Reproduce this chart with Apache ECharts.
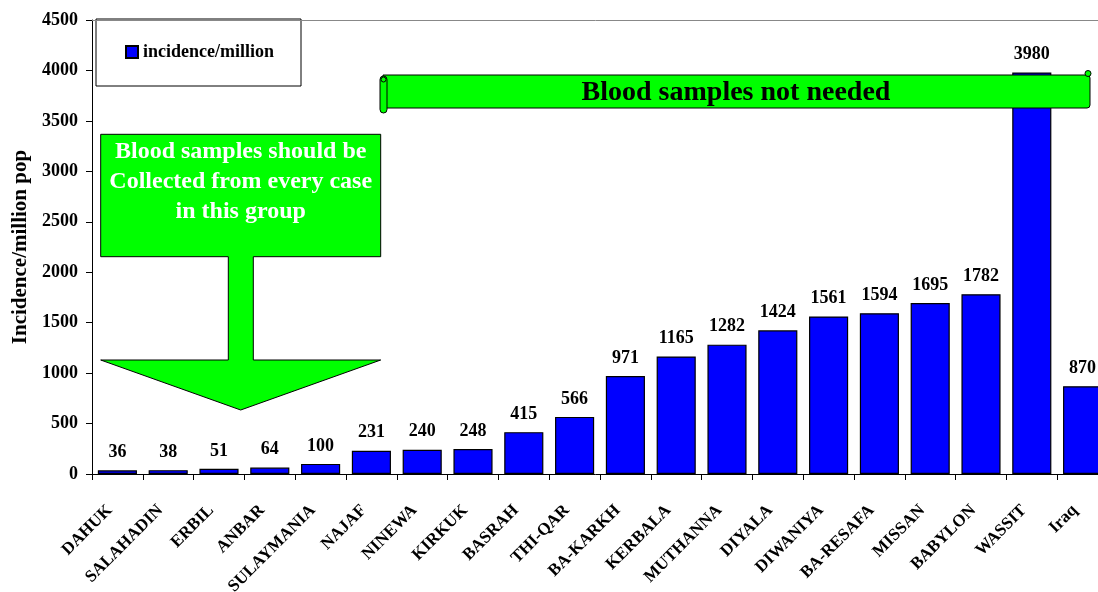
<!DOCTYPE html>
<html><head><meta charset="utf-8">
<script src="https://cdn.jsdelivr.net/npm/echarts@6/dist/echarts.min.js"></script>
<style>html,body{margin:0;padding:0;background:#fff}#c{width:1098px;height:592px}</style>
</head><body><div id="c"></div>
<script>
const categories = ['DAHUK','SALAHADIN','ERBIL','ANBAR','SULAYMANIA','NAJAF','NINEWA','KIRKUK','BASRAH','THI-QAR','BA-KARKH','KERBALA','MUTHANNA','DIYALA','DIWANIYA','BA-RESAFA','MISSAN','BABYLON','WASSIT','Iraq'];
const incidence = [36,38,51,64,100,231,240,248,415,566,971,1165,1282,1424,1561,1594,1695,1782,3980,870];
const seriesName = 'incidence/million';
const yAxisName = 'Incidence/million pop';
const yMin = 0, yMax = 4500, yInterval = 500;
const noteGroup = 'Blood samples should be\nCollected from every case\nin this group';
const noteBanner = 'Blood samples not needed';

const FONT = "'Liberation Serif','Times New Roman',serif";
const chart = echarts.init(document.getElementById('c'), null, {renderer:'canvas'});
const green = '#00FF00';
chart.setOption({
  animation:false,
  backgroundColor:'#fff',
  textStyle:{fontFamily:FONT},
  grid:{left:92, width:1016, top:20, bottom:118, containLabel:false, outerBoundsMode:'none'},
  legend:{
    left:96, top:19, orient:'horizontal',
    backgroundColor:'#fff', borderColor:'#000', borderWidth:1,
    padding:[24,27,25,29], itemWidth:12, itemHeight:12, itemGap:5,
    icon:'rect',
    textStyle:{fontFamily:FONT, fontWeight:'bold', fontSize:18, color:'#000'},
    data:[seriesName]
  },
  xAxis:{
    type:'category', data:categories, boundaryGap:true,
    axisLine:{show:true, lineStyle:{color:'#000', width:1}},
    axisTick:{show:true, length:6, interval:0, lineStyle:{color:'#000'}},
    axisLabel:{interval:0, rotate:45, margin:26, padding:[0,11,0,0], fontFamily:FONT, fontWeight:'bold', fontSize:17, color:'#000'},
    splitLine:{show:false}
  },
  yAxis:{
    type:'value', min:yMin, max:yMax, interval:yInterval,
    name:yAxisName, nameLocation:'middle', nameGap:51,
    nameTextStyle:{fontFamily:FONT, fontWeight:'bold', fontSize:21, color:'#000'},
    axisLine:{show:true, lineStyle:{color:'#000', width:1}},
    axisTick:{show:true, length:6, lineStyle:{color:'#000'}},
    axisLabel:{margin:14, fontFamily:FONT, fontWeight:'bold', fontSize:18, color:'#000',
      formatter:function(v){return String(v);}},
    splitLine:{show:false}
  },
  series:[{
    name:seriesName, type:'bar', data:incidence, barWidth:'77%',
    itemStyle:{color:'#0000FF', borderColor:'#000', borderWidth:1.2},
    label:{show:true, position:'top', distance:9, fontFamily:FONT, fontWeight:'bold', fontSize:18, color:'#000'},
    markLine:{silent:true, symbol:'none', label:{show:false},
      lineStyle:{color:'#888', type:'solid', width:1},
      data:[{yAxis:yMax}]}
  }],
  graphic:[
    {type:'polygon', z:100, shape:{points:[[100.7,134.3],[380.7,134.3],[380.7,256.7],[253.3,256.7],[253.3,360],[380.7,360],[240.7,410],[100.7,360],[228.3,360],[228.3,256.7],[100.7,256.7]]},
      style:{fill:green, stroke:'#000', lineWidth:1}},
    {type:'text', z:101, style:{x:240.7, y:182, text:noteGroup, align:'center', verticalAlign:'middle', lineHeight:30,
      font:"bold 24px "+FONT, fill:'#fff'}},
    {type:'rect', z:100, shape:{x:383, y:75, width:707, height:33, r:[0,3,3,0]}, style:{fill:green, stroke:'#000', lineWidth:1}},
    {type:'rect', z:102, shape:{x:380, y:76, width:7, height:37, r:3.5}, style:{fill:green, stroke:'#000', lineWidth:1}},
    {type:'circle', z:103, shape:{cx:383.5, cy:79.5, r:2.5}, style:{fill:green, stroke:'#000', lineWidth:1}},
    {type:'circle', z:103, shape:{cx:1088, cy:73.5, r:3}, style:{fill:green, stroke:'#000', lineWidth:1}},
    {type:'text', z:101, style:{x:736, y:93, text:noteBanner, align:'center', verticalAlign:'middle',
      font:"bold 28px "+FONT, fill:'#000'}}
  ]
});
</script></body></html>
